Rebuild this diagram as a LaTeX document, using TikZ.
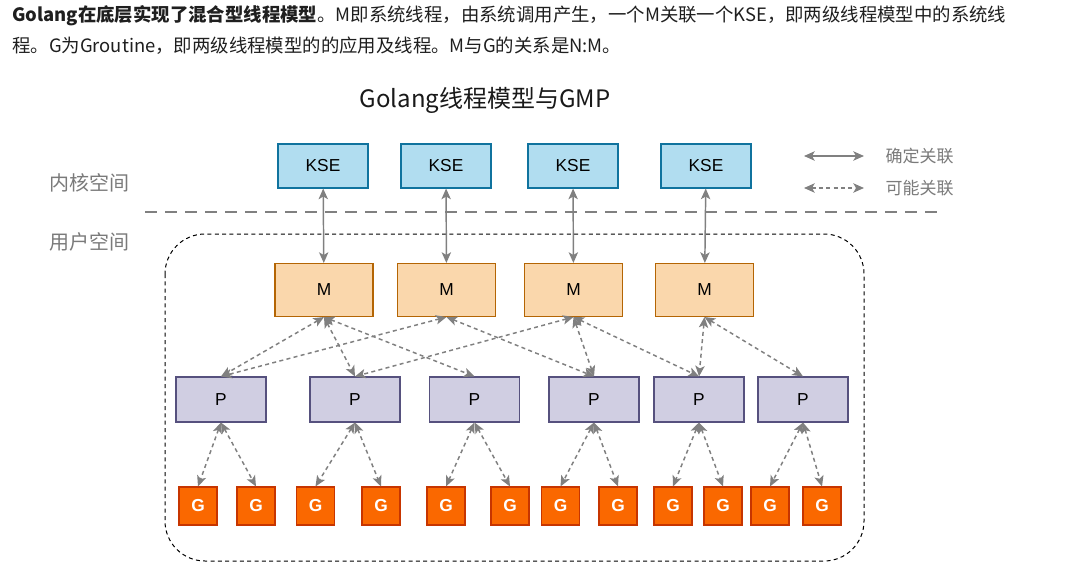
\documentclass[tikz,border=0pt]{standalone}
\usepackage{fontspec}
\setmainfont{Noto Sans CJK SC}
\newfontfamily\boxfont{Liberation Sans}
\usetikzlibrary{arrows.meta}

\definecolor{ksefill}{HTML}{B1DDF0}
\definecolor{kseline}{HTML}{10739E}
\definecolor{mfill}{HTML}{FAD7AC}
\definecolor{mline}{HTML}{B46504}
\definecolor{pfill}{HTML}{D0CEE2}
\definecolor{pline}{HTML}{56517E}
\definecolor{gfill}{HTML}{FA6800}
\definecolor{gline}{HTML}{C73500}
\definecolor{linkgray}{HTML}{808080}
\definecolor{labelgray}{HTML}{7A7A7A}

\begin{document}
\begin{tikzpicture}[x=0.75pt, y=-0.75pt,
    kse/.style={draw=kseline, fill=ksefill, line width=0.8pt, minimum width=67.5pt, minimum height=33pt, font=\boxfont\fontsize{13}{15}\selectfont},
    mbox/.style={draw=mline, fill=mfill, line width=0.8pt, minimum width=73.5pt, minimum height=39.75pt, font=\boxfont\fontsize{13}{15}\selectfont},
    pbox/.style={draw=pline, fill=pfill, line width=0.8pt, minimum width=67.5pt, minimum height=33.75pt, font=\boxfont\fontsize{13}{15}\selectfont},
    gbox/.style={draw=gline, fill=gfill, line width=0.8pt, minimum width=28.5pt, minimum height=28.5pt, text=white, font=\boxfont\bfseries\fontsize{13}{15}\selectfont},
    sure/.style={draw=linkgray, line width=1.1pt, {Stealth[length=8pt,width=7pt,inset=2pt]}-{Stealth[length=8pt,width=7pt,inset=2pt]}},
    maybe/.style={sure, dash pattern=on 3pt off 2.5pt},
    spacelabel/.style={text=labelgray, font=\fontsize{15}{18}\selectfont},
    legendlabel/.style={text=labelgray, anchor=west, font=\fontsize{12.75}{15}\selectfont}]

    \fill[white] (0,0) rectangle (1087,581);
    \useasboundingbox (0,0) rectangle (1087,581);

    % 説明文
    \node[anchor=west, inner sep=0, text=black!88, font=\fontsize{13.8}{16}\selectfont] (line1) at (12,16)
        {\textbf{Golang在底层实现了混合型线程模型}。M即系统线程，由系统调用产生，一个M关联一个KSE，即两级线程模型中的系统线};
    \node[anchor=west, inner sep=0, text=black!88, font=\fontsize{13.8}{16}\selectfont] (line2) at (12,46)
        {程。G为Groutine，即两级线程模型的的应用及线程。M与G的关系是N:M。};
    \node[font=\fontsize{18}{22}\selectfont, text=black!90] (title) at (485,100) {Golang线程模型与GMP};

    % 空間
    \node[spacelabel] (kernel) at (89,183) {内核空间};
    \node[spacelabel] (user) at (89,242) {用户空间};
    \draw[linkgray, line width=2.2pt, dash pattern=on 9pt off 6pt] (145,212) -- (937,212);
    \draw[black, line width=0.75pt, dash pattern=on 3pt off 2.5pt, rounded corners=30pt] (165,234) rectangle (864,561);

    % 凡例
    \coordinate (sureA) at (804,156);
    \coordinate (sureB) at (864,156);
    \coordinate (maybeA) at (804,188);
    \coordinate (maybeB) at (864,188);
    \draw[sure] (sureA) -- (sureB);
    \draw[maybe] (maybeA) -- (maybeB);
    \node[legendlabel] (surelabel) at (881,156) {确定关联};
    \node[legendlabel] (maybelabel) at (881,188) {可能关联};

    % KSE
    \node[kse] (K1) at (323,166) {KSE};
    \node[kse] (K2) at (446,166) {KSE};
    \node[kse] (K3) at (573,166) {KSE};
    \node[kse] (K4) at (706,166) {KSE};

    % M
    \node[mbox] (M1) at (324,290) {M};
    \node[mbox] (M2) at (446.5,290) {M};
    \node[mbox] (M3) at (573.5,290) {M};
    \node[mbox] (M4) at (704.5,290) {M};

    % P
    \node[pbox] (P1) at (221,399.5) {P};
    \node[pbox] (P2) at (355,399.5) {P};
    \node[pbox] (P3) at (474.5,399.5) {P};
    \node[pbox] (P4) at (594,399.5) {P};
    \node[pbox] (P5) at (699,399.5) {P};
    \node[pbox] (P6) at (803,399.5) {P};

    % G
    \node[gbox] (G1) at (198,506) {G};
    \node[gbox] (G2) at (256,506) {G};
    \node[gbox] (G3) at (315.5,506) {G};
    \node[gbox] (G4) at (381,506) {G};
    \node[gbox] (G5) at (446,506) {G};
    \node[gbox] (G6) at (510,506) {G};
    \node[gbox] (G7) at (560.5,506) {G};
    \node[gbox] (G8) at (618,506) {G};
    \node[gbox] (G9) at (673,506) {G};
    \node[gbox] (G10) at (723,506) {G};
    \node[gbox] (G11) at (770,506) {G};
    \node[gbox] (G12) at (822,506) {G};

    % 線を引く
    \draw[sure] (K1) -- (M1);
    \draw[sure] (K2) -- (M2);
    \draw[sure] (K3) -- (M3);
    \draw[sure] (K4) -- (M4);

    \draw[maybe] (M1.south) -- (P1.north);
    \draw[maybe] (M1.south) -- (P2.north);
    \draw[maybe] (M1.south) -- (P3.north);
    \draw[maybe] (M2.south) -- (P1.north);
    \draw[maybe] (M2.south) -- (P4.north);
    \draw[maybe] (M3.south) -- (P2.north);
    \draw[maybe] (M3.south) -- (P4.north);
    \draw[maybe] (M3.south) -- (P5.north);
    \draw[maybe] (M4.south) -- (P5.north);
    \draw[maybe] (M4.south) -- (P6.north);

    \draw[maybe] (P1.south) -- (G1.north);
    \draw[maybe] (P1.south) -- (G2.north);
    \draw[maybe] (P2.south) -- (G3.north);
    \draw[maybe] (P2.south) -- (G4.north);
    \draw[maybe] (P3.south) -- (G5.north);
    \draw[maybe] (P3.south) -- (G6.north);
    \draw[maybe] (P4.south) -- (G7.north);
    \draw[maybe] (P4.south) -- (G8.north);
    \draw[maybe] (P5.south) -- (G9.north);
    \draw[maybe] (P5.south) -- (G10.north);
    \draw[maybe] (P6.south) -- (G11.north);
    \draw[maybe] (P6.south) -- (G12.north);

\end{tikzpicture}
\end{document}
